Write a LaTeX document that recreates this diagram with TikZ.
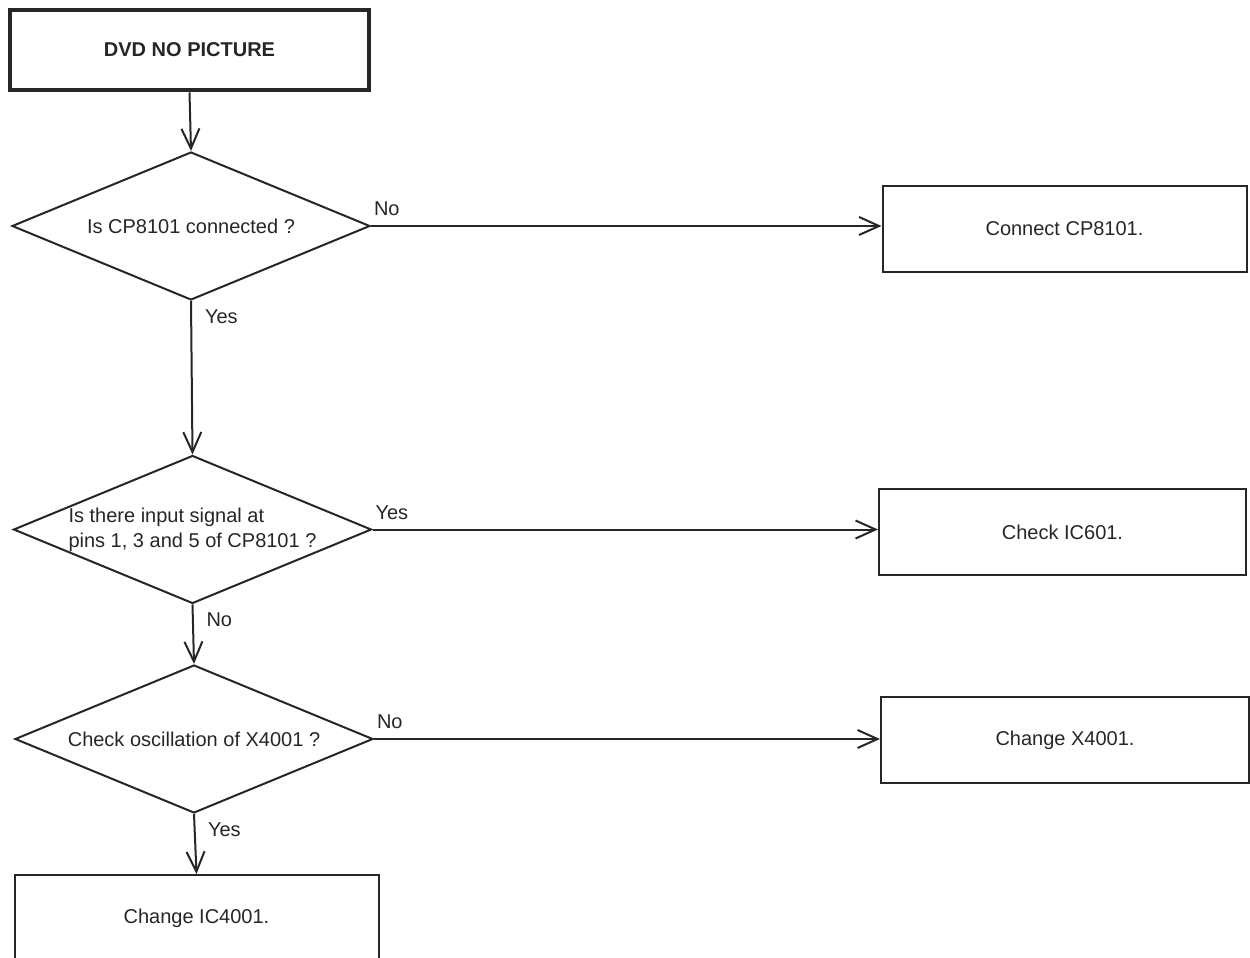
\documentclass[tikz,border=0pt]{standalone}
\usepackage{fontspec}
\setmainfont{Liberation Sans}
\usetikzlibrary{shapes.geometric,arrows.meta,positioning}

\begin{document}
\begin{tikzpicture}[x=0.5pt, y=-0.5pt, color=black!85,
  font=\fontsize{10}{12.5}\selectfont,
  startbox/.style={draw, rectangle, line width=2.4pt, minimum width=179.5pt, minimum height=40pt, font=\fontsize{10}{12}\selectfont\bfseries},
  decision/.style={draw, diamond, line width=1pt, inner sep=0pt, aspect=2.43, minimum width=179pt, minimum height=74pt},
  actbox/.style={draw, rectangle, line width=1pt, minimum width=182pt, minimum height=43pt},
  flow/.style={line width=1pt, -{Straight Barb[length=10pt, width=9pt]}},
  rlbl/.style={inner sep=0pt, at start, anchor=south west, xshift=1pt, yshift=4.5pt},
  dlbl/.style={inner sep=0pt, at start, anchor=north west, xshift=6.5pt, yshift=-3.7pt}]
\useasboundingbox (0,0) rectangle (1250,958);

% questions down the left side
\node[startbox] (start) at (189.5,50) {DVD NO PICTURE};
\node[decision] (q1) at (191,226) {Is CP8101 connected ?};
\node[decision, align=left] (q2) at (192.5,529.5) {Is there input signal at\\pins 1, 3 and 5 of CP8101 ?};
\node[decision] (q3) at (194,739) {Check oscillation of X4001 ?};
\node[actbox] (fix4) at (196.5,918) {Change IC4001.};

% remedies on the right
\node[actbox] (fix1) at (1064.5,229) {Connect CP8101.};
\node[actbox, minimum width=183.5pt] (fix2) at (1062.5,532) {Check IC601.};
\node[actbox, minimum width=184pt] (fix3) at (1065,740) {Change X4001.};

\draw[flow] (start.south) -- (q1.north);
\draw[flow] (q1.south) -- node[dlbl] {Yes} (q2.north);
\draw[flow] (q2.south) -- node[dlbl] {No} (q3.north);
\draw[flow] (q3.south) -- node[dlbl] {Yes} (fix4.north);

\draw[flow] (q1.east) -- node[rlbl] {No} (q1.east -| fix1.west);
\draw[flow] (q2.east) -- node[rlbl] {Yes} (q2.east -| fix2.west);
\draw[flow] (q3.east) -- node[rlbl] {No} (q3.east -| fix3.west);
\end{tikzpicture}
\end{document}
